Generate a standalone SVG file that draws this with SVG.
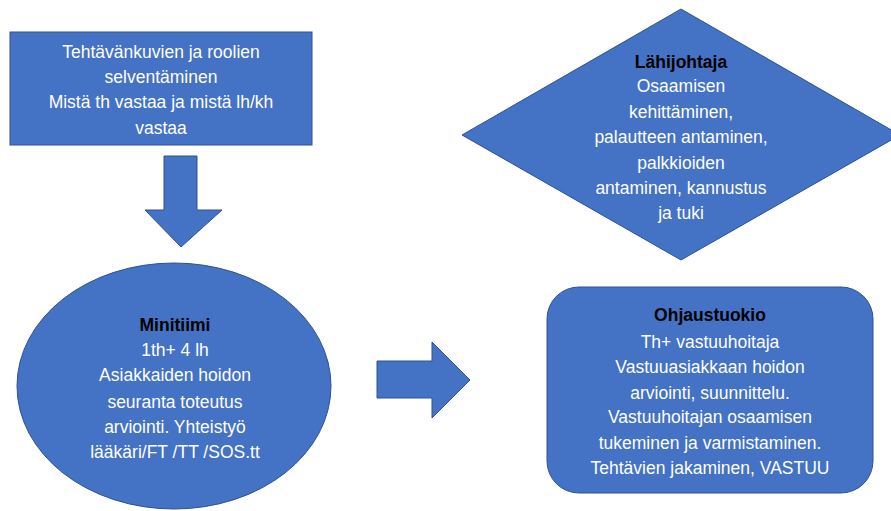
<svg xmlns="http://www.w3.org/2000/svg" width="891" height="511" viewBox="0 0 891 511">
<style>
.shape{fill:#4472C4;stroke:#2F528F;stroke-width:1}
.t{font-family:"Liberation Sans",Arial,sans-serif;font-size:17.5px;fill:#ffffff;text-anchor:middle}
.b{font-weight:bold;fill:#000000}
</style>
<rect width="891" height="511" fill="#ffffff"/>
<g id="connectors">
<polygon class="shape" points="164,156 197,156 197,210 222,210 181,247 145,210 164,210"/>
<polygon class="shape" points="377,361 432,361 432,342 470,380 432,418 432,398 377,398"/>
</g>
<g id="node-tehtavankuvat">
<rect class="shape" x="10" y="32" width="302" height="113"/>
<text class="t" x="161" y="58">Tehtävänkuvien ja roolien</text>
<text class="t" x="161" y="83">selventäminen</text>
<text class="t" x="161" y="108">Mistä th vastaa ja mistä lh/kh</text>
<text class="t" x="161" y="134">vastaa</text>
</g>
<g id="node-lahijohtaja">
<polygon class="shape" points="681,9 900,135 681,260 462,135"/>
<text class="t b" x="681" y="68">Lähijohtaja</text>
<text class="t" x="681" y="92">Osaamisen</text>
<text class="t" x="681" y="118">kehittäminen,</text>
<text class="t" x="681" y="143">palautteen antaminen,</text>
<text class="t" x="681" y="169">palkkioiden</text>
<text class="t" x="681" y="194">antaminen, kannustus</text>
<text class="t" x="681" y="219">ja tuki</text>
</g>
<g id="node-minitiimi">
<ellipse class="shape" cx="174" cy="386" rx="157" ry="123"/>
<text class="t b" x="175" y="331">Minitiimi</text>
<text class="t" x="175" y="356">1th+ 4 lh</text>
<text class="t" x="175" y="381">Asiakkaiden hoidon</text>
<text class="t" x="175" y="408">seuranta toteutus</text>
<text class="t" x="175" y="433">arviointi. Yhteistyö</text>
<text class="t" x="175" y="458">lääkäri/FT /TT /SOS.tt</text>
</g>
<g id="node-ohjaustuokio">
<rect class="shape" x="547" y="287" width="326" height="206" rx="32" ry="32"/>
<text class="t b" x="710" y="321">Ohjaustuokio</text>
<text class="t" x="710" y="348">Th+ vastuuhoitaja</text>
<text class="t" x="710" y="373">Vastuuasiakkaan hoidon</text>
<text class="t" x="710" y="399">arviointi, suunnittelu.</text>
<text class="t" x="710" y="423">Vastuuhoitajan osaamisen</text>
<text class="t" x="710" y="449">tukeminen ja varmistaminen.</text>
<text class="t" x="710" y="474">Tehtävien jakaminen, VASTUU</text>
</g>
</svg>
